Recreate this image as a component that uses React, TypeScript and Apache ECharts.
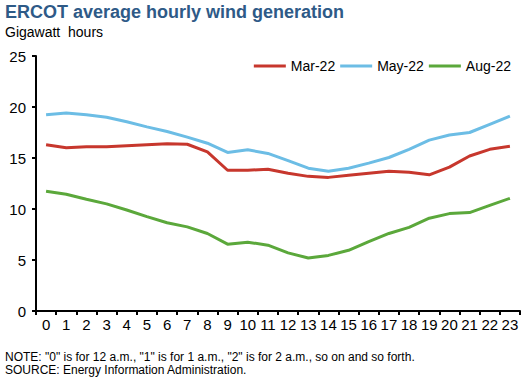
import React, { useEffect, useRef } from "react";
import * as echarts from "echarts";

const hours = Array.from({ length: 24 }, (_, i) => String(i));
const yTicks = [0, 5, 10, 15, 20, 25];
const mar22 = [16.3, 16.0, 16.1, 16.1, 16.2, 16.3, 16.4, 16.35, 15.6, 13.8, 13.8, 13.9, 13.5, 13.2, 13.1, 13.3, 13.5, 13.7, 13.6, 13.35, 14.1, 15.2, 15.85, 16.15];
const may22 = [19.25, 19.4, 19.25, 19.0, 18.55, 18.05, 17.6, 17.05, 16.45, 15.55, 15.8, 15.45, 14.75, 14.0, 13.7, 14.0, 14.5, 15.05, 15.85, 16.75, 17.25, 17.5, 18.3, 19.1];
const aug22 = [11.75, 11.45, 10.95, 10.5, 9.9, 9.25, 8.65, 8.25, 7.6, 6.55, 6.75, 6.45, 5.7, 5.2, 5.45, 5.95, 6.8, 7.6, 8.2, 9.1, 9.55, 9.65, 10.35, 11.05];
const seriesNames = ["Mar-22", "May-22", "Aug-22"];
const colors = ["#C7372D", "#6CBDE5", "#5BA83B"];

const FONT = '"Liberation Sans", Arial, sans-serif';

export default function App() {
  const ref = useRef<HTMLDivElement>(null);
  useEffect(() => {
    if (!ref.current) return;
    const chart = echarts.init(ref.current, null, { renderer: "svg" });
    const data = [mar22, may22, aug22];
    chart.setOption({
      animation: false,
      backgroundColor: "#ffffff",
      textStyle: { fontFamily: FONT },
      title: [
        {
          text: "ERCOT average hourly wind generation",
          left: 5,
          top: 3,
          padding: 0,
          textStyle: { fontFamily: FONT, fontSize: 18, fontWeight: "bold", color: "#2E5A87" },
        },
        {
          text: "Gigawatt  hours",
          left: 5,
          top: 25,
          padding: 0,
          textStyle: { fontFamily: FONT, fontSize: 14, fontWeight: "normal", color: "#000" },
        },
        {
          text: 'NOTE: "0" is for 12 a.m., "1" is for 1 a.m., "2" is for 2 a.m., so on and so forth.\nSOURCE: Energy Information Administration.',
          left: 5,
          top: 350,
          padding: 0,
          textStyle: { fontFamily: FONT, fontSize: 12, fontWeight: "normal", color: "#000", lineHeight: 13 },
        },
      ],
      legend: {
        data: seriesNames,
        right: 16,
        top: 54,
        icon: "rect",
        itemWidth: 32,
        itemHeight: 3,
        itemGap: 5,
        textStyle: { fontFamily: FONT, fontSize: 14, color: "#000" },
      },
      grid: { left: 36, right: 12, top: 56, bottom: 71, containLabel: false },
      xAxis: {
        type: "category",
        data: hours,
        boundaryGap: true,
        axisLine: { lineStyle: { color: "#000", width: 2 } },
        axisTick: { show: true, length: 4, interval: 0, lineStyle: { color: "#000", width: 2 } },
        axisLabel: { interval: 0, margin: 6, fontSize: 15, color: "#000", fontFamily: FONT },
        splitLine: { show: false },
      },
      yAxis: {
        type: "value",
        min: yTicks[0],
        max: yTicks[yTicks.length - 1],
        interval: 5,
        axisLine: { show: true, lineStyle: { color: "#000", width: 2 } },
        axisTick: { show: true, length: 4, lineStyle: { color: "#000", width: 2 } },
        axisLabel: { margin: 10, fontSize: 15, color: "#000", fontFamily: FONT },
        splitLine: { show: false },
      },
      series: seriesNames.map((name, k) => ({
        name,
        type: "line",
        data: data[k],
        symbol: "none",
        smooth: false,
        lineStyle: { color: colors[k], width: 3 },
        itemStyle: { color: colors[k] },
      })),
    });
    return () => chart.dispose();
  }, []);
  return <div ref={ref} style={{ width: 532, height: 382, position: "absolute", left: 0, top: 0 }} />;
}
